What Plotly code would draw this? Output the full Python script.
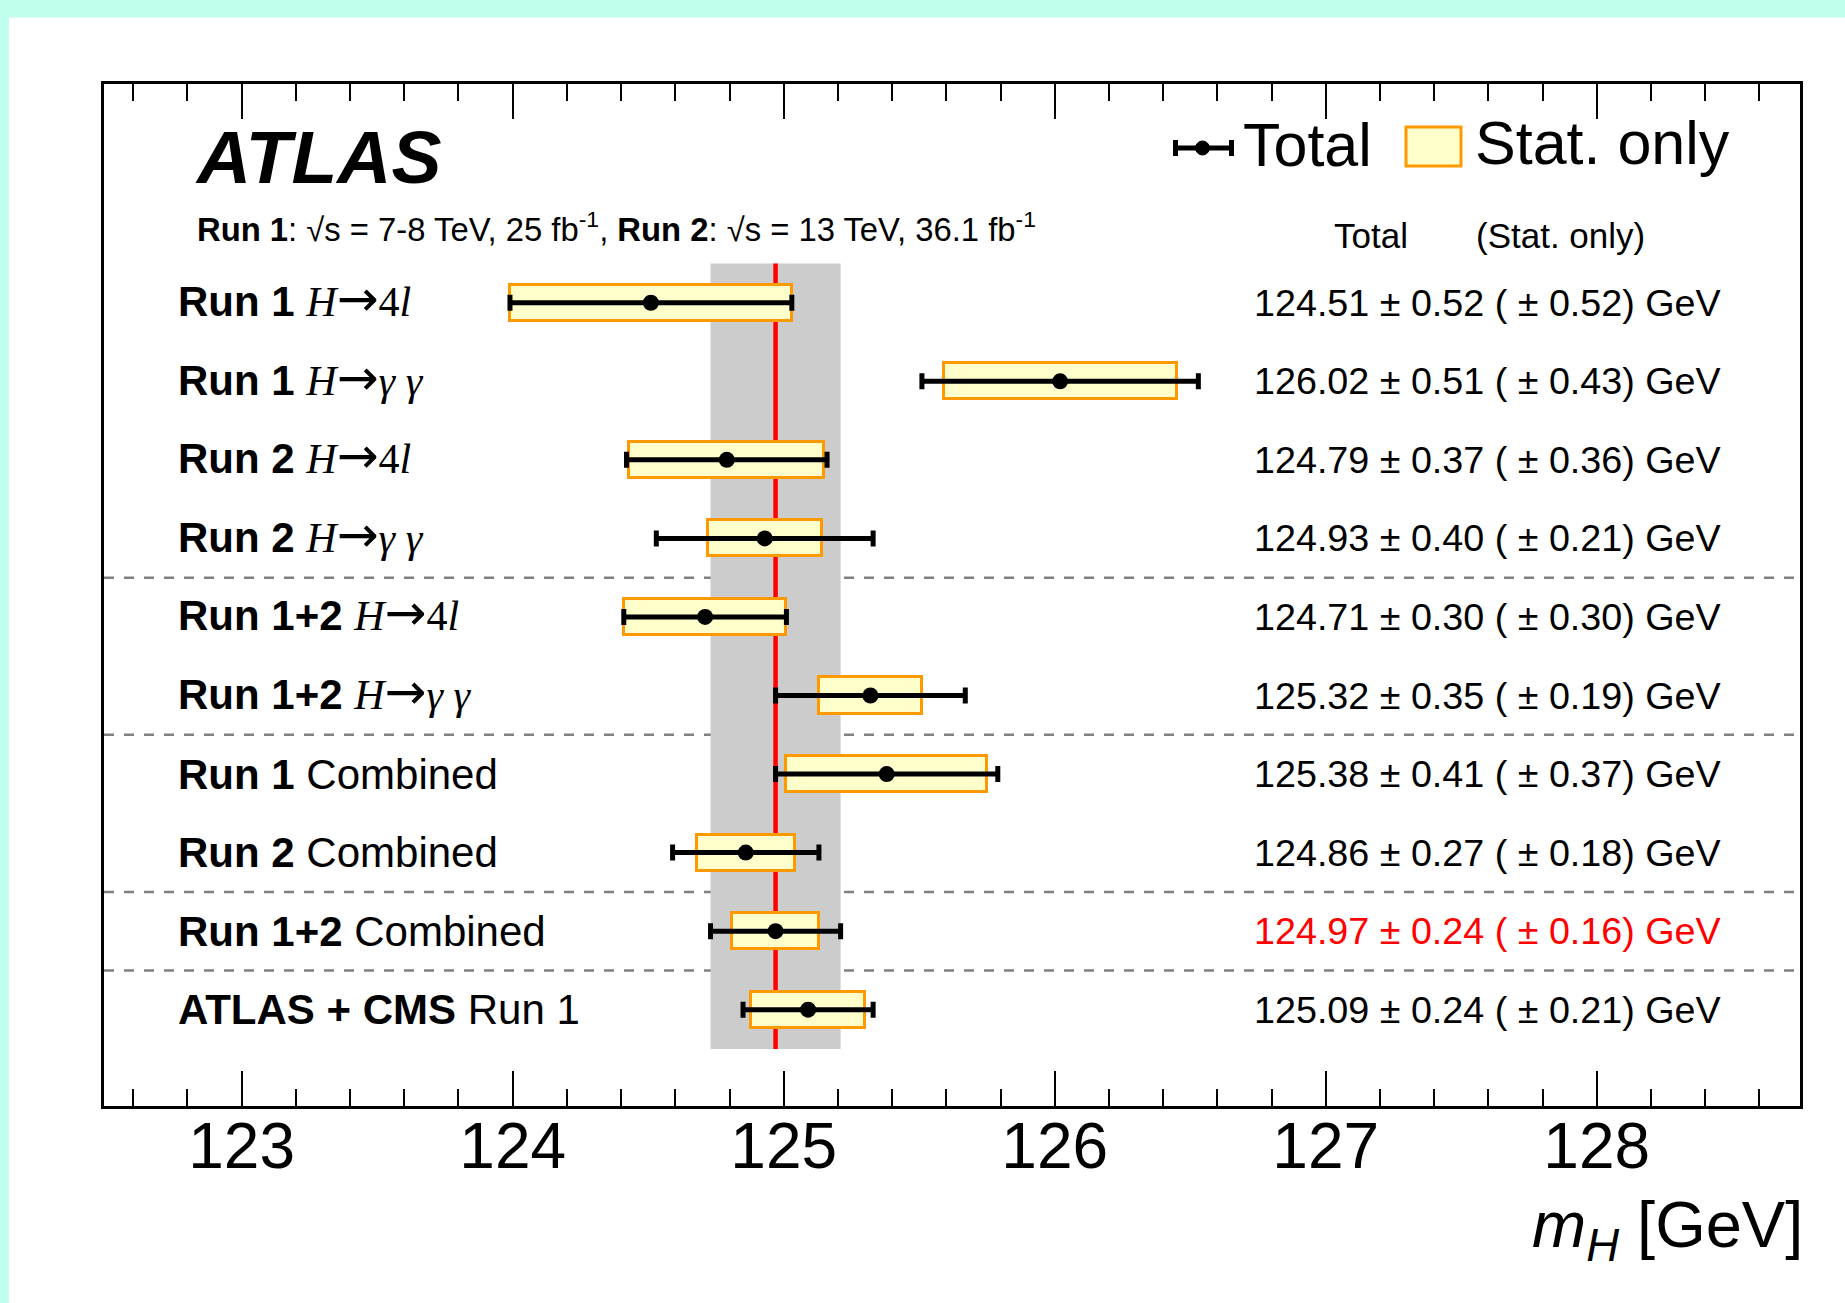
import plotly.graph_objects as go

# ---- measurements -------------------------------------------------------
prefixes = ["Run 1", "Run 1", "Run 2", "Run 2", "Run 1+2", "Run 1+2",
            "Run 1", "Run 2", "Run 1+2", "ATLAS + CMS"]
channels = ["H→4l", "H→γγ", "H→4l", "H→γγ", "H→4l", "H→γγ",
            "Combined", "Combined", "Combined", "Run 1"]
is_decay = [True, True, True, True, True, True, False, False, False, False]
mass = [124.51, 126.02, 124.79, 124.93, 124.71, 125.32, 125.38, 124.86, 124.97, 125.09]
total_err = [0.52, 0.51, 0.37, 0.40, 0.30, 0.35, 0.41, 0.27, 0.24, 0.24]
stat_err = [0.52, 0.43, 0.36, 0.21, 0.30, 0.19, 0.37, 0.18, 0.16, 0.21]
highlight = 8  # Run 1+2 combined result, drawn as the reference band
separators = [3.5, 5.5, 7.5, 8.5]

tick_vals = [123, 124, 125, 126, 127, 128]
tick_text = ["123", "124", "125", "126", "127", "128"]

# ---- geometry -----------------------------------------------------------
W, H = 1845, 1303
L, R, T, B = 104, 1800, 84, 1106
SANS = "Liberation Sans, Arial, Helvetica, sans-serif"
SERIF = "Liberation Serif, Times New Roman, serif"
ARROW_FONT = "DejaVu Sans, Liberation Sans, sans-serif"
ORANGE = "#ff9900"
PALE = "#ffffcc"


def px(x):
    return (x - L) / (R - L)


def py(y):
    return (B - y) / (B - T)


def decay_html(ch):
    """Typeset 'H→XY' as math: italic serif symbols, upright digits, long arrow."""
    head, tail = ch.split("→")
    parts = []
    for c in tail:
        if c.isdigit():
            parts.append(c)
        else:
            parts.append(f"<i>{c}</i>")
    joiner = " " if all(not c.isdigit() for c in tail) else ""
    body = joiner.join(parts)
    return (f"<span style='font-family:{SERIF}'><i>{head}</i></span>"
            f"<span style='font-family:{ARROW_FONT};font-size:50px'>→</span>"
            f"<span style='font-family:{SERIF}'>{body}</span>")


rows = list(range(len(mass)))

fig = go.Figure()

# statistical-only boxes
fig.add_trace(go.Bar(
    orientation="h",
    y=rows,
    base=[m - s for m, s in zip(mass, stat_err)],
    x=[2 * s for s in stat_err],
    width=0.46,
    marker=dict(color=PALE, line=dict(color=ORANGE, width=3)),
    hoverinfo="skip",
    showlegend=False,
))

# central values with total uncertainty
fig.add_trace(go.Scatter(
    x=mass,
    y=rows,
    mode="markers",
    marker=dict(color="black", size=16),
    error_x=dict(type="data", array=total_err, symmetric=True,
                 color="black", thickness=5, width=8),
    hoverinfo="skip",
    showlegend=False,
))

ref_m = mass[highlight]
ref_e = total_err[highlight]
shapes = [
    # page background strips
    dict(type="rect", xref="paper", yref="paper", x0=px(0), x1=px(W),
         y0=py(0), y1=py(17.6), fillcolor="#c0ffee", line=dict(width=0), layer="below"),
    dict(type="rect", xref="paper", yref="paper", x0=px(0), x1=px(9),
         y0=py(0), y1=py(H), fillcolor="#c0ffee", line=dict(width=0), layer="below"),
    # combined band and central line
    dict(type="rect", xref="x", yref="y", x0=ref_m - ref_e, x1=ref_m + ref_e,
         y0=-0.5, y1=len(mass) - 0.5, fillcolor="#cccccc", line=dict(width=0), layer="below"),
    dict(type="line", xref="x", yref="y", x0=ref_m, x1=ref_m,
         y0=-0.5, y1=len(mass) - 0.5, line=dict(color="#ff0000", width=4.5), layer="below"),
]
for s in separators:
    shapes.append(dict(type="line", xref="paper", yref="y", x0=0, x1=1, y0=s, y1=s,
                       line=dict(color="#808080", width=2.5, dash="10px,10px"), layer="below"))

# legend glyphs
ly = py(148)
shapes += [
    dict(type="line", xref="paper", yref="paper", x0=px(1174), x1=px(1233), y0=ly, y1=ly,
         line=dict(color="black", width=5)),
    dict(type="line", xref="paper", yref="paper", x0=px(1175.5), x1=px(1175.5),
         y0=py(140), y1=py(156), line=dict(color="black", width=5)),
    dict(type="line", xref="paper", yref="paper", x0=px(1231.5), x1=px(1231.5),
         y0=py(140), y1=py(156), line=dict(color="black", width=5)),
    dict(type="circle", xref="paper", yref="paper", x0=px(1195.5), x1=px(1209.5),
         y0=py(141), y1=py(155), fillcolor="black", line=dict(color="black", width=1)),
    dict(type="rect", xref="paper", yref="paper", x0=px(1406), x1=px(1461),
         y0=py(127), y1=py(166), fillcolor=PALE, line=dict(color=ORANGE, width=3)),
]

annotations = []


def note(text, x, y, size, xanchor="left", yanchor="middle", color="black",
         xref="paper", yref="paper", family=SANS, yshift=0):
    annotations.append(dict(text=text, x=x, y=y, xref=xref, yref=yref,
                            xanchor=xanchor, yanchor=yanchor, showarrow=False,
                            borderpad=0, yshift=yshift,
                            font=dict(family=family, size=size, color=color)))


note("<b><i>ATLAS</i></b>", px(194), py(157.5), 75)
note("<b>Run 1</b>: √s = 7-8 TeV, 25 fb<sup>-1</sup>, <b>Run 2</b>: √s = 13 TeV, 36.1 fb<sup>-1</sup>",
     px(196), py(226.5), 32.8)
note("Total", px(1242), py(145), 61)
note("Stat. only", px(1474), py(143), 61)
note("Total", px(1333), py(235), 35)
note("(Stat. only)", px(1475), py(235), 35)

for i in rows:
    if is_decay[i]:
        # the larger arrow glyph enlarges the line box, so lift it back to the row centre
        note(f"<b>{prefixes[i]}</b> {decay_html(channels[i])}", px(177), i, 42,
             yref="y", yshift=3.5)
    else:
        note(f"<b>{prefixes[i]}</b> {channels[i]}", px(177), i, 42, yref="y")
    val = f"{mass[i]:.2f} ± {total_err[i]:.2f} ( ± {stat_err[i]:.2f}) GeV"
    note(val, px(1722), i, 37.7, xanchor="right", yref="y",
         color="#ff0000" if i == highlight else "black")

note("<i>m</i><sub><i>H</i></sub> [GeV]", px(1804), py(1187), 65, xanchor="right", yanchor="top")

fig.update_layout(
    width=W, height=H, autosize=False,
    margin=dict(l=L, r=W - R, t=T, b=H - B, pad=0),
    paper_bgcolor="white", plot_bgcolor="white",
    shapes=shapes, annotations=annotations,
    bargap=0, showlegend=False,
    xaxis=dict(
        range=[122.492, 128.75],
        tickmode="array", tickvals=tick_vals, ticktext=tick_text,
        ticks="inside", ticklen=35, tickwidth=2, tickcolor="black",
        mirror="ticks", showline=True, linecolor="black", linewidth=3,
        showgrid=False, zeroline=False, ticklabelstandoff=-18,
        tickfont=dict(family=SANS, size=64, color="black"),
        minor=dict(tickmode="linear", tick0=122.6, dtick=0.2, ticks="inside",
                   ticklen=17, tickwidth=2, tickcolor="black", showgrid=False),
    ),
    yaxis=dict(
        range=[len(mass) + 0.226, -2.785],
        showline=True, mirror=True, linecolor="black", linewidth=3,
        ticks="", showticklabels=False, showgrid=False, zeroline=False,
    ),
)

fig.write_html("out.html", config={"displayModeBar": False})
